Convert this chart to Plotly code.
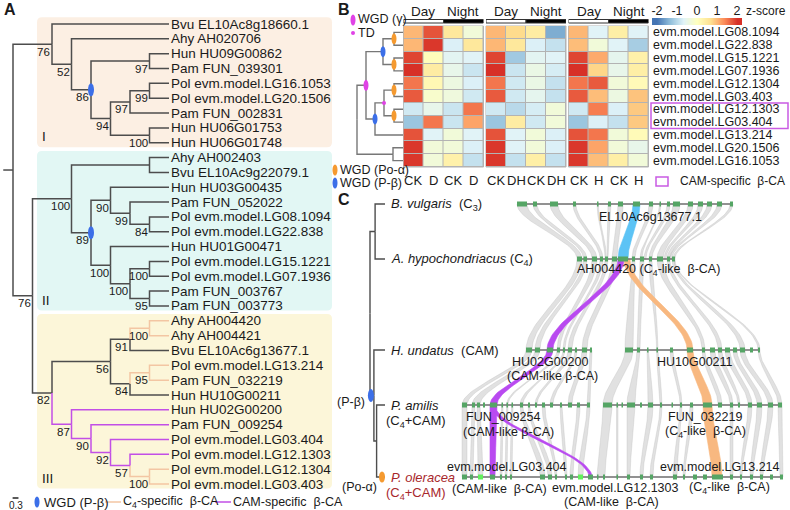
import numpy as np
import plotly.graph_objects as go

W, H = 790, 510
FONT = "Liberation Sans, Arial, Helvetica, sans-serif"
INK = "#1a1a1a"

# ============================ DATA ============================
# Panel A: beta-CA gene tree (newick; support values, cladogram branch lengths)
# tags: "#t" = C4-specific branch, "#p" = CAM-specific branch, "@w" = WGD (P-beta)
CLADE_I = ("(Bvu EL10Ac8g18660.1:6,(Ahy AH020706:5,((Hun HU09G00862:1,Pam FUN_039301:1)97:3,"
           "(((Pol evm.model.LG16.1053:1,Pol evm.model.LG20.1506:1)99:1,Pam FUN_002831:2)97:1,"
           "(Hun HU06G01753:1,Hun HU06G01748:1)100:2)94:1)86@w:1)52:1)76")
CLADE_II = ("((Ahy AH002403:1,Bvu EL10Ac9g22079.1:1):4,((Hun HU03G00435:3,(Pam FUN_052022:2,"
            "(Pol evm.model.LG08.1094:1,Pol evm.model.LG22.838:1)84:1)99:1)90:1,(Hun HU01G00471:3,"
            "((Pol evm.model.LG15.1221:1,Pol evm.model.LG07.1936:1)100:1,(Pam FUN_003767:1,"
            "Pam FUN_003773:1)95:1)100:1)100:1)89@w:1)100")
CLADE_III = ("((((Ahy AH004420#t:1,Ahy AH004421#t:1)100#t:1,Bvu EL10Ac6g13677.1:2)91:1,"
             "((Pol evm.model.LG13.214#t:1,Pam FUN_032219#t:1)95#t:1,Hun HU10G00211:2)84:1)56:3,"
             "(Hun HU02G00200#p:5,(Pam FUN_009254#p:4,(Pol evm.model.LG03.404#p:3,"
             "(Pol evm.model.LG12.1303#p:2,(Pol evm.model.LG12.1304#t:1,Pol evm.model.LG03.403#t:1)100#t:1)57#p:1"
             ")92#p:1)90#p:1)87#p:1)82")
TREE_A = "(" + CLADE_I + ":2,(" + CLADE_II + ":2," + CLADE_III + ":1)76:1);"
CLADE_NAMES = ["I", "II", "III"]
SCALE_BAR = 0.3

# Panel B: heatmap (z-score) of P. oleracea beta-CA genes
HEAT_ROWS = ["evm.model.LG08.1094", "evm.model.LG22.838", "evm.model.LG15.1221",
             "evm.model.LG07.1936", "evm.model.LG12.1304", "evm.model.LG03.403",
             "evm.model.LG12.1303", "evm.model.LG03.404", "evm.model.LG13.214",
             "evm.model.LG20.1506", "evm.model.LG16.1053"]
CAM_ROWS = ["evm.model.LG12.1303", "evm.model.LG03.404"]
GROUP_COLS = [["CK", "D", "CK", "D"], ["CK", "DH", "CK", "DH"], ["CK", "H", "CK", "H"]]
PHASES = ["Day", "Night"]
Z_D = [[1.0, 1.75, 0.5, -0.3], [1.0, 1.95, -0.7, 0.5], [1.85, 0.05, -0.6, -0.65],
       [2.0, 0.4, -0.5, -0.85], [1.5, 0.15, -0.4, -0.7], [1.7, -0.15, -0.35, -0.8],
       [-0.8, -0.5, -0.85, 1.5], [-1.25, 1.5, -0.85, 1.15], [1.75, -0.65, -0.3, -0.65],
       [1.95, -0.3, -0.3, -0.7], [1.95, -0.3, 0.3, -0.9]]
Z_DH = [[1.0, 0.7, 0.4, -1.5], [1.0, 0.5, -0.7, -0.9], [1.85, -1.2, -0.6, -0.65],
        [2.0, -0.85, -0.45, -0.75], [1.5, -0.8, -0.45, -0.9], [1.7, -0.8, -0.55, -0.9],
        [-0.8, -1.0, -0.75, -0.3], [-1.25, 0.4, -0.8, -0.3], [1.75, -0.65, -0.3, -0.7],
        [1.95, -0.65, -0.3, -0.7], [1.95, -0.9, 0.35, -0.9]]
Z_H = [[1.0, -0.65, 0.35, -0.65], [0.95, -0.3, -0.65, -1.15], [1.85, 1.1, -0.55, 0.3],
       [2.0, 0.75, -0.5, 0.35], [1.5, 1.7, -0.3, 0.1], [1.7, 0.95, -0.4, 0.9],
       [-0.8, 1.45, -0.7, 0.85], [-1.25, -0.7, -0.9, 0.85], [1.75, 1.5, -0.3, 0.1],
       [1.95, 1.15, -0.3, -0.5], [1.95, 0.95, 0.35, -0.3]]
# row dendrogram; marks: a = WGD(Po-alpha), b = WGD(P-beta), g = WGD(gamma), t = TD
DENDRO_B = ("((((LG08.1094:0.9,LG22.838:0.9)@a:1.1,(LG15.1221:0.9,LG07.1936:0.9)@a:1.1)@b:1.7,"
            "(((LG12.1304:0.9,LG03.403:0.9)@a:1.0,(LG12.1303:0.9,LG03.404:0.9)@a:1.0)@t:0.9,"
            "LG13.214:2.8)@b:0.9)@g:0.9,(LG20.1506:1.0,LG16.1053:1.0):3.6);")
ZTICKS = [-2, -1, 0, 1, 2]

# Panel C: species tree + microsynteny
SPECIES_TREE = "((Bvu:3.3,Ahy:3.3):1.7,(Hun:3.7,(Pam:2.8,Pol@o:2.8):0.9)@b:1.3);"
SPECIES = {"Bvu": ["<i>B. vulgaris</i>\u00a0 (C<sub>3</sub>)"],
           "Ahy": ["<i>A. hypochondriacus</i> (C<sub>4</sub>)"],
           "Hun": ["<i>H. undatus</i>\u00a0 (CAM)"],
           "Pam": ["<i>P. amilis</i>", "(C<sub>4</sub>+CAM)"],
           "Pol": ["<i>P. oleracea</i>", "(C<sub>4</sub>+CAM)"]}
SEGMENTS = [[(517, 733)], [(577, 675)], [(526, 592), (625, 760)],
            [(462, 590), (603, 782)], [(462, 783)]]
GENES = [
    [(517, 527), (533, 537), (550, 558), (573, 576), (597, 598.5), (608, 611), (618, 623), (633, 640),
     (649, 653), (659.5, 661), (667, 670), (673, 680), (688, 693), (698, 703), (707, 712), (717, 722), (730, 733)],
    [(577, 582), (583.5, 587), (592, 597), (600, 603), (605, 608), (612, 617), (618, 628), (632, 635),
     (640, 644), (649, 652), (657, 663), (667, 670), (672, 675)],
    [(526, 532), (535, 540), (547, 553), (557, 560), (563, 565), (568, 572), (575, 577), (582, 587), (590, 592),
     (625, 633), (637, 640), (647, 648.5), (656.5, 658), (670, 673), (687, 693), (702, 705), (710, 715),
     (718, 722), (725, 730), (733, 737), (740, 745), (750, 753), (758, 760)],
    [(462, 467), (472, 475), (477, 480), (483, 485), (490, 497), (501.5, 503), (506.5, 508), (511.5, 513),
     (520, 523), (528, 530), (535, 537), (542, 545), (550, 553), (560, 562), (568, 572), (577, 580), (587, 590),
     (603, 612), (616.5, 618), (621.5, 623), (627, 635), (640, 642), (648, 653), (660, 662), (671.5, 673),
     (680, 682), (690, 693), (703, 712), (718, 722), (730, 733), (738, 740), (748, 752), (757, 762),
     (768, 773), (778, 782)],
    [(462, 467), (470, 473), (490, 495), (500, 502), (505, 507), (510, 512), (540, 545), (548, 552),
     (555, 557), (565, 567), (570, 573), (588, 593), (597, 598.5), (603, 605), (616.5, 618), (627, 630),
     (640, 643), (650, 653), (673, 677), (683, 685), (693, 697), (703, 707), (712, 723), (730, 733),
     (740, 742), (750, 753), (760, 763), (770, 773), (780, 783)],
]
HIGHLIGHT = [[], [], [], [], [(478, 483), (578, 583)]]
# (row_a, a0, a1, row_b, b0, b1, kind)
LINKS = [
    (0, 517, 527, 1, 577, 582, "g"), (0, 533, 537, 1, 583.5, 587, "g"), (0, 550, 558, 1, 592, 597, "g"),
    (0, 573, 576, 1, 600, 603, "g"), (0, 597, 598.5, 1, 605, 606.5, "g"), (0, 608, 611, 1, 607, 608, "g"),
    (0, 618, 623, 1, 612, 617, "g"), (0, 633, 640, 1, 618, 628, "blue"), (0, 649, 653, 1, 632, 635, "g"),
    (0, 659.5, 661, 1, 640, 642, "g"), (0, 667, 670, 1, 644, 646, "g"), (0, 673, 680, 1, 649, 652, "g"),
    (0, 688, 693, 1, 657, 663, "g"), (0, 698, 703, 1, 664, 666, "g"), (0, 707, 712, 1, 667, 670, "g"),
    (0, 717, 722, 1, 670, 672, "g"), (0, 730, 733, 1, 673, 675, "g"),
    (1, 577, 582, 2, 526, 532, "g"), (1, 583.5, 587, 2, 535, 540, "g"), (1, 592, 597, 2, 557, 560, "g"),
    (1, 600, 603, 2, 563, 565, "g"), (1, 605, 608, 2, 568, 572, "g"), (1, 612, 617, 2, 582, 587, "g"),
    (1, 618, 624, 2, 547, 553, "purple"), (1, 624, 630, 2, 687, 693, "orange"),
    (1, 632, 635, 2, 625, 633, "g"), (1, 640, 644, 2, 637, 640, "g"), (1, 649, 652, 2, 656.5, 658, "g"),
    (1, 657, 663, 2, 702, 705, "g"), (1, 667, 670, 2, 718, 722, "g"), (1, 672, 674, 2, 740, 745, "g"),
    (1, 674, 675, 2, 758, 760, "g"),
    (2, 526, 532, 3, 462, 467, "g"), (2, 535, 540, 3, 472, 480, "g"), (2, 547, 553, 3, 490, 497, "purple"),
    (2, 557, 560, 3, 506.5, 508, "g"), (2, 563, 565, 3, 520, 523, "g"), (2, 568, 572, 3, 535, 537, "g"),
    (2, 575, 577, 3, 550, 553, "g"), (2, 582, 587, 3, 568, 572, "g"), (2, 590, 592, 3, 587, 590, "g"),
    (2, 625, 633, 3, 603, 612, "g"), (2, 637, 640, 3, 627, 635, "g"), (2, 647, 648.5, 3, 648, 653, "g"),
    (2, 656.5, 658, 3, 660, 662, "g"), (2, 670, 673, 3, 680, 682, "g"), (2, 687, 693, 3, 703, 712, "orange"),
    (2, 702, 705, 3, 718, 722, "g"), (2, 710, 715, 3, 730, 733, "g"), (2, 718, 722, 3, 738, 740, "g"),
    (2, 725, 730, 3, 748, 752, "g"), (2, 733, 737, 3, 757, 762, "g"), (2, 740, 745, 3, 768, 773, "g"),
    (2, 758, 760, 3, 778, 782, "g"),
    (3, 462, 467, 4, 462, 467, "g"), (3, 472, 475, 4, 470, 473, "g"), (3, 477, 480, 4, 478, 483, "g"),
    (3, 490, 497, 4, 490, 495, "purple"), (3, 491, 495, 4, 589, 592, "purple"),
    (3, 501.5, 503, 4, 500, 502, "g"), (3, 506.5, 508, 4, 505, 507, "g"), (3, 511.5, 513, 4, 510, 512, "g"),
    (3, 520, 523, 4, 540, 545, "g"), (3, 528, 530, 4, 548, 552, "g"), (3, 542, 545, 4, 555, 557, "g"),
    (3, 560, 562, 4, 565, 567, "g"), (3, 577, 580, 4, 570, 573, "g"), (3, 587, 590, 4, 578, 583, "g"),
    (3, 603, 612, 4, 597, 605, "g"), (3, 616.5, 618, 4, 616.5, 618, "g"), (3, 627, 635, 4, 627, 630, "g"),
    (3, 648, 653, 4, 640, 643, "g"), (3, 660, 662, 4, 650, 653, "g"), (3, 680, 682, 4, 673, 677, "g"),
    (3, 690, 693, 4, 683, 685, "g"), (3, 703, 712, 4, 712, 722, "orange"), (3, 730, 733, 4, 730, 733, "g"),
    (3, 748, 752, 4, 740, 742, "g"), (3, 757, 762, 4, 750, 753, "g"), (3, 768, 773, 4, 760, 763, "g"),
    (3, 778, 782, 4, 780, 783, "g"),
]

# ============================ HELPERS ============================
def parse_newick(s):
    s = s.strip().rstrip(";")
    pos = [0]

    def read():
        node = {"children": []}
        if s[pos[0]] == "(":
            pos[0] += 1
            while True:
                node["children"].append(read())
                c = s[pos[0]]
                pos[0] += 1
                if c == ")":
                    break
        st = pos[0]
        while pos[0] < len(s) and s[pos[0]] not in ",():":
            pos[0] += 1
        label = s[st:pos[0]]
        length = 0.0
        if pos[0] < len(s) and s[pos[0]] == ":":
            pos[0] += 1
            st = pos[0]
            while pos[0] < len(s) and s[pos[0]] not in ",()":
                pos[0] += 1
            length = float(s[st:pos[0]])
        mark = None
        if "@" in label:
            label, mark = label.split("@")
        col = None
        if "#" in label:
            label, col = label.split("#")
        node.update(label=label, length=length, mark=mark, col=col)
        return node
    return read()


def layout_tree(root, leaf_y=None):
    leaves = []

    def walk(n, x):
        n["x"] = x
        if n["children"]:
            for c in n["children"]:
                walk(c, x + c["length"])
            n["y"] = (n["children"][0]["y"] + n["children"][-1]["y"]) / 2
        else:
            n["idx"] = len(leaves)
            n["y"] = leaf_y[len(leaves)] if leaf_y is not None else len(leaves)
            leaves.append(n)
    walk(root, 0.0)
    return leaves


def all_nodes(n):
    out = [n]
    for c in n["children"]:
        out += all_nodes(c)
    return out


def leaves_of(n):
    if not n["children"]:
        return [n]
    out = []
    for c in n["children"]:
        out += leaves_of(c)
    return out


def tree_edges(root):
    segs = {}

    def walk(n):
        for c in n["children"]:
            xs, ys = segs.setdefault(c["col"], ([], []))
            xs += [n["x"], n["x"], c["x"], None]
            ys += [n["y"], c["y"], c["y"], None]
            walk(c)
    walk(root)
    return segs


def dom_x(a, b):
    return [a / W, b / W]


def dom_y(a, b):
    return [1 - b / H, 1 - a / H]


annotations, shapes = [], []


def add_text(text, x, y, xref="paper", yref="paper", xanchor="left", yanchor="middle",
             size=12, color=INK, xshift=0, yshift=0):
    if xref == "paper":
        x = x / W
    if yref == "paper":
        y = 1 - y / H
    annotations.append(dict(text=text, x=x, y=y, xref=xref, yref=yref, xanchor=xanchor,
                            yanchor=yanchor, showarrow=False, xshift=xshift, yshift=yshift,
                            borderpad=0,
                            font=dict(family=FONT, size=size, color=color)))


def add_ellipse(x, y, w, h, color, xref="paper", yref="paper"):
    if xref == "paper":
        x = x / W
    if yref == "paper":
        y = 1 - y / H
    shapes.append(dict(type="circle", xref=xref, yref=yref, xsizemode="pixel", ysizemode="pixel",
                       xanchor=x, yanchor=y, x0=-w / 2, x1=w / 2, y0=-h / 2, y1=h / 2,
                       fillcolor=color, line=dict(width=0), layer="above"))


BLUE, ORANGE, MAGENTA = "#3c6fe8", "#f59a30", "#e042e6"
TAN, PURPLE = "#f3c6a3", "#c24fe6"
GAP = "\u00a0 "
fig = go.Figure()

# ============================ PANEL A ============================
A_X0, A_DX = 13, 19.5
A_Y0, A_DY = 24, 14.84
A_DOM = (0, 340)
treeA = parse_newick(TREE_A)
leavesA = layout_tree(treeA)

clades = [treeA["children"][0], treeA["children"][1]["children"][0], treeA["children"][1]["children"][1]]
box_cols = ["#fcefe3", "#e2f7f4", "#fcf6d9"]
bx0, bx1 = (37 - A_X0) / A_DX, (332 - A_X0) / A_DX
rx, ry = 5 / A_DX, 5 / A_DY
for cl, bc, nm in zip(clades, box_cols, CLADE_NAMES):
    lv = leaves_of(cl)
    y0, y1 = lv[0]["y"] - 0.45, lv[-1]["y"] + 0.3
    path = (f"M {bx0 + rx},{y0} L {bx1 - rx},{y0} Q {bx1},{y0} {bx1},{y0 + ry} L {bx1},{y1 - ry} "
            f"Q {bx1},{y1} {bx1 - rx},{y1} L {bx0 + rx},{y1} Q {bx0},{y1} {bx0},{y1 - ry} "
            f"L {bx0},{y0 + ry} Q {bx0},{y0} {bx0 + rx},{y0} Z")
    shapes.append(dict(type="path", path=path, xref="x", yref="y", fillcolor=bc,
                       line=dict(width=0), layer="below"))
    add_text(nm, bx0 + 0.2, lv[-1]["y"] - 0.4, xref="x", yref="y", size=13.5)

segsA = tree_edges(treeA)
colmapA = {None: "#4d4d4d", "t": TAN, "p": PURPLE}
for key in [None, "t", "p"]:
    if key in segsA:
        xs, ys = segsA[key]
        fig.add_trace(go.Scatter(x=xs, y=ys, mode="lines", line=dict(color=colmapA[key], width=1.5),
                                 xaxis="x", yaxis="y", hoverinfo="skip"))
fig.add_trace(go.Scatter(x=[-0.5, 0], y=[treeA["y"]] * 2, mode="lines",
                         line=dict(color="#4d4d4d", width=1.5), xaxis="x", yaxis="y", hoverinfo="skip"))

for lf in leavesA:
    add_text(lf["label"], lf["x"], lf["y"], xref="x", yref="y", size=13.5, xshift=1)
for n in all_nodes(treeA):
    if n["children"] and n["label"]:
        add_text(n["label"], n["x"], n["y"], xref="x", yref="y", xanchor="right", yanchor="top",
                 size=11.5, xshift=-1, yshift=-0.5)
    if n["mark"] == "w":
        add_ellipse(n["x"], n["y"], 6, 13, BLUE, xref="x", yref="y")

# scale bar + legend
sb_y = (498 - A_Y0) / A_DY
fig.add_trace(go.Scatter(x=[-0.02, -0.02 + SCALE_BAR], y=[sb_y, sb_y], mode="lines",
                         line=dict(color="#222", width=1.5), xaxis="x", yaxis="y", hoverinfo="skip"))
add_text(str(SCALE_BAR), -0.02 + SCALE_BAR / 2, 505, xref="x", xanchor="center", size=10)
add_ellipse(37, 502, 5, 11, BLUE)
add_text("WGD (P-β)", 43, 502, size=13)
shapes.append(dict(type="line", xref="paper", yref="paper", x0=105 / W, x1=121 / W,
                   y0=1 - 502 / H, y1=1 - 502 / H, line=dict(color=TAN, width=1.5)))
add_text("C<sub>4</sub>-specific" + GAP + "β-CA", 122, 502, size=12.5)
shapes.append(dict(type="line", xref="paper", yref="paper", x0=215 / W, x1=231 / W,
                   y0=1 - 502 / H, y1=1 - 502 / H, line=dict(color=PURPLE, width=1.5)))
add_text("CAM-specific" + GAP + "β-CA", 232, 502, size=12.5)
add_text("<b>A</b>", 3, 9, size=16)

# ============================ PANEL B ============================
CS = [[0, "#4575B4"], [1 / 6, "#91BFDB"], [2 / 6, "#E0F3F8"], [0.5, "#FFFFBF"],
      [4 / 6, "#FEE090"], [5 / 6, "#FC8D59"], [1, "#D73027"]]
HM_DOMS = [(403.5, 483.5), (486, 566), (568.5, 648.5)]
HM_Y = (26, 167)
for g, (z, cols) in enumerate(zip([Z_D, Z_DH, Z_H], GROUP_COLS)):
    ax = g + 2
    fig.add_trace(go.Heatmap(z=z, x=list(range(len(cols))), y=list(range(len(HEAT_ROWS))),
                             colorscale=CS, zmin=-2, zmax=2, xgap=1, ygap=1, showscale=False,
                             xaxis=f"x{ax}", yaxis="y2", hoverinfo="skip"))
    shapes.append(dict(type="rect", xref=f"x{ax} domain", yref="y2 domain", x0=0, x1=1, y0=0, y1=1,
                       fillcolor="#b3b3b3", line=dict(color="#b3b3b3", width=1), layer="below"))
    for j, c in enumerate(cols):
        add_text(c, j, 180, xref=f"x{ax}", xanchor="center", size=13)
    for k, ph in enumerate(PHASES):
        add_text(ph, 2 * k + 0.5, 11, xref=f"x{ax}", xanchor="center", size=13.5)
        shapes.append(dict(type="rect", xref=f"x{ax}", yref="paper", x0=2 * k - 0.5, x1=2 * k + 1.5,
                           y0=1 - 23 / H, y1=1 - 19.5 / H, fillcolor="white" if k == 0 else "black",
                           line=dict(color="#333", width=1)))

for i, gname in enumerate(HEAT_ROWS):
    add_text(gname, 652, i, yref="y2", size=12.5)
cam_idx = [HEAT_ROWS.index(r) for r in CAM_ROWS]
shapes.append(dict(type="rect", xref="paper", yref="y2", x0=651 / W, x1=788 / W,
                   y0=min(cam_idx) - 0.5, y1=max(cam_idx) + 0.5, line=dict(color="#c95be3", width=1.5)))
shapes.append(dict(type="rect", xref="paper", yref="paper", x0=656 / W, x1=668 / W,
                   y0=1 - 186 / H, y1=1 - 177 / H, line=dict(color="#c95be3", width=1.5)))
add_text("CAM-specific" + GAP + "β-CA", 679, 181, size=12)

dendro = parse_newick(DENDRO_B)
leavesB = layout_tree(dendro)
segsB = tree_edges(dendro)
for key, (xs, ys) in segsB.items():
    fig.add_trace(go.Scatter(x=xs, y=ys, mode="lines", line=dict(color="#777777", width=1.4),
                             xaxis="x5", yaxis="y2", hoverinfo="skip"))
mark_style = {"a": (5, 11, ORANGE), "b": (5, 11, BLUE), "g": (5, 11, MAGENTA), "t": (4, 4, MAGENTA)}
for n in all_nodes(dendro):
    if n["mark"] in mark_style:
        w_, h_, c_ = mark_style[n["mark"]]
        add_ellipse(n["x"], n["y"], w_, h_, c_, xref="x5", yref="y2")

# colour key
cb_x = np.linspace(-2.25, 2.25, 181)
fig.add_trace(go.Heatmap(z=[cb_x], x=cb_x, y=[0], colorscale=CS, zmin=-2, zmax=2, showscale=False,
                         xaxis="x6", yaxis="y6", hoverinfo="skip"))
add_text("z-score", 745, 11, size=12)

add_ellipse(353, 20, 5, 11, MAGENTA)
add_text("WGD (γ)", 357, 19, size=12.5)
add_ellipse(353, 33, 4, 4, MAGENTA)
add_text("TD", 357, 33, size=12.5)
add_ellipse(335, 170, 5, 11, ORANGE)
add_text("WGD (Po-α)", 339, 170, size=12.5)
add_ellipse(335, 183, 5, 11, BLUE)
add_text("WGD (P-β)", 339, 183, size=12.5)
add_text("<b>B</b>", 337, 9, size=16)

# ============================ PANEL C ============================
ROW_Y = [204, 259, 350, 405, 477]
sp = parse_newick(SPECIES_TREE)
leavesC = layout_tree(sp, leaf_y=ROW_Y)
for key, (xs, ys) in tree_edges(sp).items():
    fig.add_trace(go.Scatter(x=xs, y=ys, mode="lines", line=dict(color="#4d4d4d", width=1.4),
                             xaxis="x7", yaxis="y7", hoverinfo="skip"))
for lf in leavesC:
    lines = SPECIES[lf["label"]]
    col = "#a8282c" if lf["label"] == "Pol" else INK
    add_text(lines[0], lf["x"], lf["y"], xref="x7", yref="y7", size=13, xshift=5, color=col)
    if len(lines) > 1:
        add_text(lines[1], lf["x"], lf["y"] + 16, xref="x7", yref="y7", size=13, xshift=0, color=col)


def parent_of(root, target):
    for n in all_nodes(root):
        if target in n["children"]:
            return n


for n in all_nodes(sp):
    if n["mark"] == "b":
        px_ = parent_of(sp, n)["x"]
        add_ellipse(px_ + 0.3, n["y"], 6, 13, BLUE, xref="x7", yref="y7")
        add_text("(P-β)", px_, n["y"], xref="x7", yref="y7", xanchor="right", size=12.5,
                 xshift=-4, yshift=-6)
    if n["mark"] == "o":
        add_ellipse(n["x"] - 1, n["y"], 6, 11, ORANGE, xref="x7", yref="y7")
        add_text("(Po-α)", n["x"] - 1, n["y"], xref="x7", yref="y7", xanchor="right", size=12.5,
                 xshift=-4, yshift=-10)


def ribbon(a0, a1, ya, b0, b1, yb, n=40):
    t = np.linspace(0, 1, n)
    s = t * t * (3 - 2 * t)
    y = ya + (yb - ya) * t
    xl = a0 + (b0 - a0) * s
    xr = a1 + (b1 - a1) * s
    return list(xl) + list(xr[::-1]) + [xl[0]], list(y) + list(y[::-1]) + [y[0]]


rib = {}
for ra, a0, a1, rb, b0, b1, kind in LINKS:
    xs, ys = ribbon(a0, a1, ROW_Y[ra], b0, b1, ROW_Y[rb])
    X, Y = rib.setdefault(kind, ([], []))
    X += xs + [None]
    Y += ys + [None]
rib_style = {"g": ("rgba(195,195,195,0.5)", "rgba(180,180,180,0.5)"),
             "blue": ("#5cc3f5", "#5cc3f5"), "purple": ("#b94af0", "#b94af0"),
             "orange": ("#f8b880", "#f8b880")}
for kind in ["g", "blue", "orange", "purple"]:
    X, Y = rib[kind]
    fc, lc = rib_style[kind]
    fig.add_trace(go.Scatter(x=X, y=Y, mode="lines", fill="toself", fillcolor=fc,
                             line=dict(color=lc, width=0.6), xaxis="x8", yaxis="y7", hoverinfo="skip"))

bx, by = [], []
for r, segs in enumerate(SEGMENTS):
    for a, b in segs:
        bx += [a, b, None]
        by += [ROW_Y[r], ROW_Y[r], None]
fig.add_trace(go.Scatter(x=bx, y=by, mode="lines", line=dict(color="#6e6e6e", width=1.5),
                         xaxis="x8", yaxis="y7", hoverinfo="skip"))
for glist, colr in [(GENES, "#55a565"), (HIGHLIGHT, "#62f05c")]:
    gx, gy = [], []
    for r, genes in enumerate(glist):
        for a, b in genes:
            gx += [a, b, None]
            gy += [ROW_Y[r], ROW_Y[r], None]
    fig.add_trace(go.Scatter(x=gx, y=gy, mode="lines", line=dict(color=colr, width=5),
                             xaxis="x8", yaxis="y7", hoverinfo="skip"))

GENE_LABELS = [
    ("EL10Ac6g13677.1", 650, 217, "center"),
    ("AH004420 (C<sub>4</sub>-like" + GAP + "β-CA)", 576, 270, "left"),
    ("HU02G00200", 550, 362, "center"), ("(CAM-like β-CA)", 552, 376, "center"),
    ("HU10G00211", 695, 362, "center"),
    ("FUN_009254", 503, 417, "center"), ("(CAM-like β-CA)", 508, 432, "center"),
    ("FUN_032219", 705, 417, "center"), ("(C<sub>4</sub>-like" + GAP + "β-CA)", 705, 432, "center"),
    ("evm.model.LG03.404", 507, 467, "center"), ("(CAM-like" + GAP + "β-CA)", 499, 489, "center"),
    ("evm.model.LG12.1303", 615, 488, "center"), ("(CAM-like" + GAP + "β-CA)", 611, 502, "center"),
    ("evm.model.LG13.214", 720, 467, "center"), ("(C<sub>4</sub>-like" + GAP + "β-CA)", 729, 488, "center"),
]
for txt, gx_, gy_, anc in GENE_LABELS:
    add_text(txt, gx_, gy_, xref="x8", yref="y7", xanchor=anc, size=12.5)
add_text("<b>C</b>", 337, 200, size=16)


# ============================ LAYOUT ============================
def hide(**kw):
    d = dict(visible=False, showgrid=False, zeroline=False, fixedrange=True)
    d.update(kw)
    return d


fig.update_layout(
    width=W, height=H, margin=dict(l=0, r=0, t=0, b=0), showlegend=False,
    paper_bgcolor="white", plot_bgcolor="rgba(0,0,0,0)",
    font=dict(family=FONT, color=INK),
    xaxis=hide(domain=dom_x(*A_DOM), range=[(A_DOM[0] - A_X0) / A_DX, (A_DOM[1] - A_X0) / A_DX], anchor="y"),
    yaxis=hide(domain=[0, 1], range=[(H - A_Y0) / A_DY, (0 - A_Y0) / A_DY], anchor="x"),
    xaxis2=hide(domain=dom_x(*HM_DOMS[0]), range=[-0.5, 3.5], anchor="y2"),
    xaxis3=hide(domain=dom_x(*HM_DOMS[1]), range=[-0.5, 3.5], anchor="y2"),
    xaxis4=hide(domain=dom_x(*HM_DOMS[2]), range=[-0.5, 3.5], anchor="y2"),
    yaxis2=hide(domain=dom_y(*HM_Y), range=[len(HEAT_ROWS) - 0.5, -0.5], anchor="x2"),
    xaxis5=hide(domain=dom_x(330, 403.5), range=[(330 - 357) / 10, (403.5 - 357) / 10], anchor="y2"),
    xaxis6=dict(domain=dom_x(652, 742), range=[-2.25, 2.25], anchor="y6", side="top",
                tickvals=ZTICKS, ticktext=[str(v) for v in ZTICKS], ticks="", showgrid=False,
                zeroline=False, showline=False, fixedrange=True,
                tickfont=dict(family=FONT, size=12.5, color=INK)),
    yaxis6=hide(domain=dom_y(18, 25), range=[-0.5, 0.5], anchor="x6"),
    xaxis7=hide(domain=dom_x(355, 400), range=[(355 - 370) / 3, (400 - 370) / 3], anchor="y7"),
    yaxis7=hide(domain=dom_y(190, 510), range=[510, 190], anchor="x7"),
    xaxis8=hide(domain=dom_x(440, 790), range=[440, 790], anchor="y7"),
    annotations=annotations, shapes=shapes,
)

fig.write_html("out.html", config={"displayModeBar": False},
               post_script="document.body.style.margin='0';document.body.style.padding='0';"
                           "document.body.style.overflow='hidden';")
